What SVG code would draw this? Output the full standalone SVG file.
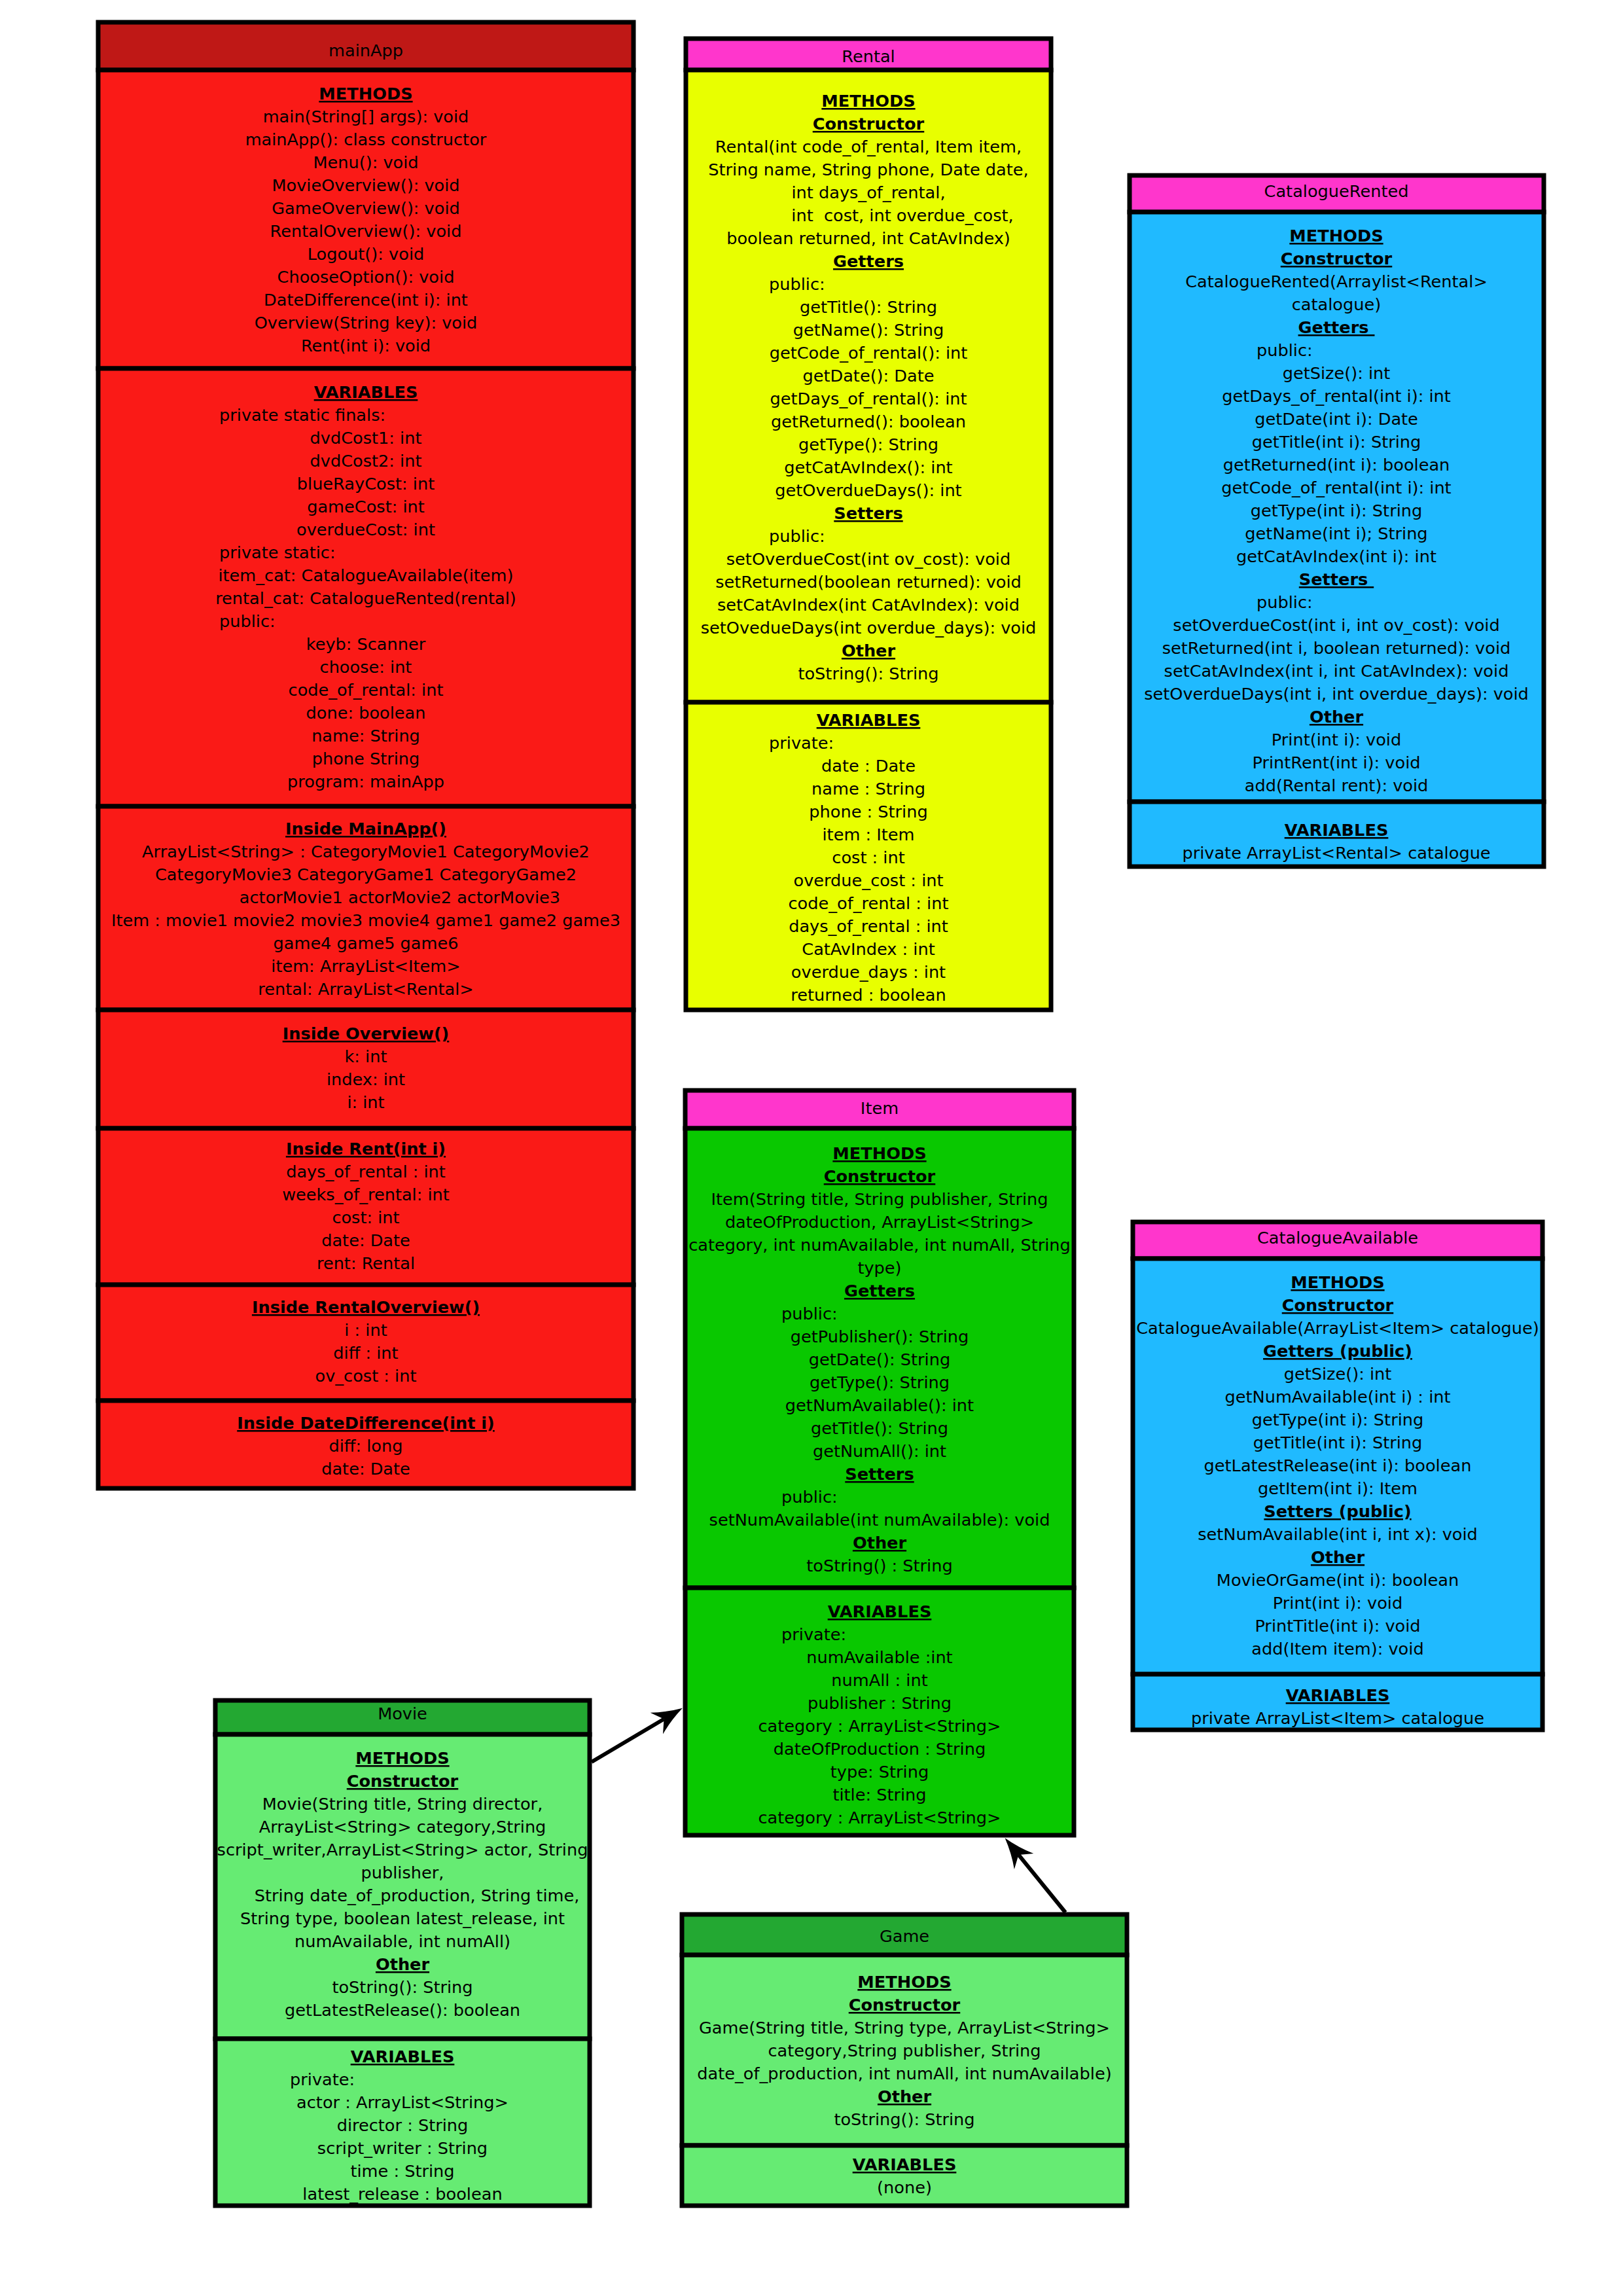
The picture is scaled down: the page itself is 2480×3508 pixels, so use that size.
<svg xmlns="http://www.w3.org/2000/svg" width="2480" height="3508" viewBox="0 0 2480 3508">
<style>
text{font-family:"DejaVu Sans",Verdana,sans-serif;font-size:25.6px;fill:#000;white-space:pre}
.m{text-anchor:middle}
.h{text-anchor:middle;font-weight:bold;text-decoration:underline}
.s{text-anchor:start}
.bd{stroke:#000;stroke-width:7}
.red{fill:#FA1A17}
.redh{fill:#BF1816}
.mag{fill:#FF36CC}
.yel{fill:#E8FF00}
.blu{fill:#20BAFF}
.grn{fill:#09C800}
.lg{fill:#66EB73}
.dg{fill:#23A832}
.conn{fill:none;stroke:#000;stroke-width:6}
</style>
<defs>
<marker id="arr" markerUnits="userSpaceOnUse" orient="auto" refX="0" refY="0" markerWidth="100" markerHeight="100" overflow="visible">
<path d="M-13,-19 Q8,-7 33,0 Q8,7 -13,19 L0,0 Z" fill="#000"/>
</marker>
</defs>
<rect width="2480" height="3508" fill="#fff"/>

<g id="mainApp">
<rect x="150" y="34" width="818" height="73" class="bd redh"/>
<rect x="150" y="107" width="818" height="456" class="bd red"/>
<rect x="150" y="563" width="818" height="669" class="bd red"/>
<rect x="150" y="1232" width="818" height="311" class="bd red"/>
<rect x="150" y="1543" width="818" height="181" class="bd red"/>
<rect x="150" y="1724" width="818" height="239" class="bd red"/>
<rect x="150" y="1963" width="818" height="177" class="bd red"/>
<rect x="150" y="2140" width="818" height="134" class="bd red"/>
<text class="m" x="559" y="86">mainApp</text>
<text class="h" x="559" y="152">METHODS</text>
<text class="m" x="559" y="187">main(String[] args): void</text>
<text class="m" x="559" y="222">mainApp(): class constructor</text>
<text class="m" x="559" y="257">Menu(): void</text>
<text class="m" x="559" y="292">MovieOverview(): void</text>
<text class="m" x="559" y="327">GameOverview(): void</text>
<text class="m" x="559" y="362">RentalOverview(): void</text>
<text class="m" x="559" y="397">Logout(): void</text>
<text class="m" x="559" y="432">ChooseOption(): void</text>
<text class="m" x="559" y="467">DateDifference(int i): int</text>
<text class="m" x="559" y="502">Overview(String key): void</text>
<text class="m" x="559" y="537">Rent(int i): void</text>
<text class="h" x="559" y="608">VARIABLES</text>
<text class="s" x="335" y="643">private static finals:</text>
<text class="m" x="559" y="678">dvdCost1: int</text>
<text class="m" x="559" y="713">dvdCost2: int</text>
<text class="m" x="559" y="748">blueRayCost: int</text>
<text class="m" x="559" y="783">gameCost: int</text>
<text class="m" x="559" y="818">overdueCost: int</text>
<text class="s" x="335" y="853">private static:</text>
<text class="m" x="559" y="888">item_cat: CatalogueAvailable(item)</text>
<text class="m" x="559" y="923">rental_cat: CatalogueRented(rental)</text>
<text class="s" x="335" y="958">public:</text>
<text class="m" x="559" y="993">keyb: Scanner</text>
<text class="m" x="559" y="1028">choose: int</text>
<text class="m" x="559" y="1063">code_of_rental: int</text>
<text class="m" x="559" y="1098">done: boolean</text>
<text class="m" x="559" y="1133">name: String</text>
<text class="m" x="559" y="1168">phone String</text>
<text class="m" x="559" y="1203">program: mainApp</text>
<text class="h" x="559" y="1275">Inside MainApp()</text>
<text class="m" x="559" y="1310">ArrayList&lt;String&gt; : CategoryMovie1 CategoryMovie2</text>
<text class="m" x="559" y="1345">CategoryMovie3 CategoryGame1 CategoryGame2</text>
<text class="m" x="611" y="1380">actorMovie1 actorMovie2 actorMovie3</text>
<text class="m" x="559" y="1415">Item : movie1 movie2 movie3 movie4 game1 game2 game3</text>
<text class="m" x="559" y="1450">game4 game5 game6</text>
<text class="m" x="559" y="1485">item: ArrayList&lt;Item&gt;</text>
<text class="m" x="559" y="1520">rental: ArrayList&lt;Rental&gt;</text>
<text class="h" x="559" y="1588">Inside Overview()</text>
<text class="m" x="559" y="1623">k: int</text>
<text class="m" x="559" y="1658">index: int</text>
<text class="m" x="559" y="1693">i: int</text>
<text class="h" x="559" y="1764">Inside Rent(int i)</text>
<text class="m" x="559" y="1799">days_of_rental : int</text>
<text class="m" x="559" y="1834">weeks_of_rental: int</text>
<text class="m" x="559" y="1869">cost: int</text>
<text class="m" x="559" y="1904">date: Date</text>
<text class="m" x="559" y="1939">rent: Rental</text>
<text class="h" x="559" y="2006">Inside RentalOverview()</text>
<text class="m" x="559" y="2041">i : int</text>
<text class="m" x="559" y="2076">diff : int</text>
<text class="m" x="559" y="2111">ov_cost : int</text>
<text class="h" x="559" y="2183">Inside DateDifference(int i)</text>
<text class="m" x="559" y="2218">diff: long</text>
<text class="m" x="559" y="2253">date: Date</text>
</g>

<g id="Rental">
<rect x="1048" y="59" width="558" height="48" class="bd mag"/>
<rect x="1048" y="107" width="558" height="966" class="bd yel"/>
<rect x="1048" y="1073" width="558" height="470" class="bd yel"/>
<text class="m" x="1327" y="95">Rental</text>
<text class="h" x="1327" y="163">METHODS</text>
<text class="h" x="1327" y="198">Constructor</text>
<text class="m" x="1327" y="233">Rental(int code_of_rental, Item item,</text>
<text class="m" x="1327" y="268">String name, String phone, Date date,</text>
<text class="m" x="1327" y="303">int days_of_rental,</text>
<text class="m" x="1379" y="338">int  cost, int overdue_cost,</text>
<text class="m" x="1327" y="373">boolean returned, int CatAvIndex)</text>
<text class="h" x="1327" y="408">Getters</text>
<text class="s" x="1175" y="443">public:</text>
<text class="m" x="1327" y="478">getTitle(): String</text>
<text class="m" x="1327" y="513">getName(): String</text>
<text class="m" x="1327" y="548">getCode_of_rental(): int</text>
<text class="m" x="1327" y="583">getDate(): Date</text>
<text class="m" x="1327" y="618">getDays_of_rental(): int</text>
<text class="m" x="1327" y="653">getReturned(): boolean</text>
<text class="m" x="1327" y="688">getType(): String</text>
<text class="m" x="1327" y="723">getCatAvIndex(): int</text>
<text class="m" x="1327" y="758">getOverdueDays(): int</text>
<text class="h" x="1327" y="793">Setters</text>
<text class="s" x="1175" y="828">public:</text>
<text class="m" x="1327" y="863">setOverdueCost(int ov_cost): void</text>
<text class="m" x="1327" y="898">setReturned(boolean returned): void</text>
<text class="m" x="1327" y="933">setCatAvIndex(int CatAvIndex): void</text>
<text class="m" x="1327" y="968">setOvedueDays(int overdue_days): void</text>
<text class="h" x="1327" y="1003">Other</text>
<text class="m" x="1327" y="1038">toString(): String</text>
<text class="h" x="1327" y="1109">VARIABLES</text>
<text class="s" x="1175" y="1144">private:</text>
<text class="m" x="1327" y="1179">date : Date</text>
<text class="m" x="1327" y="1214">name : String</text>
<text class="m" x="1327" y="1249">phone : String</text>
<text class="m" x="1327" y="1284">item : Item</text>
<text class="m" x="1327" y="1319">cost : int</text>
<text class="m" x="1327" y="1354">overdue_cost : int</text>
<text class="m" x="1327" y="1389">code_of_rental : int</text>
<text class="m" x="1327" y="1424">days_of_rental : int</text>
<text class="m" x="1327" y="1459">CatAvIndex : int</text>
<text class="m" x="1327" y="1494">overdue_days : int</text>
<text class="m" x="1327" y="1529">returned : boolean</text>
</g>

<g id="CatalogueRented">
<rect x="1726" y="268" width="633" height="56" class="bd mag"/>
<rect x="1726" y="324" width="633" height="901" class="bd blu"/>
<rect x="1726" y="1225" width="633" height="99" class="bd blu"/>
<text class="m" x="2042" y="301">CatalogueRented</text>
<text class="h" x="2042" y="369">METHODS</text>
<text class="h" x="2042" y="404">Constructor</text>
<text class="m" x="2042" y="439">CatalogueRented(Arraylist&lt;Rental&gt;</text>
<text class="m" x="2042" y="474">catalogue)</text>
<text class="h" x="2042" y="509">Getters </text>
<text class="s" x="1920" y="544">public:</text>
<text class="m" x="2042" y="579">getSize(): int</text>
<text class="m" x="2042" y="614">getDays_of_rental(int i): int</text>
<text class="m" x="2042" y="649">getDate(int i): Date</text>
<text class="m" x="2042" y="684">getTitle(int i): String</text>
<text class="m" x="2042" y="719">getReturned(int i): boolean</text>
<text class="m" x="2042" y="754">getCode_of_rental(int i): int</text>
<text class="m" x="2042" y="789">getType(int i): String</text>
<text class="m" x="2042" y="824">getName(int i); String</text>
<text class="m" x="2042" y="859">getCatAvIndex(int i): int</text>
<text class="h" x="2042" y="894">Setters </text>
<text class="s" x="1920" y="929">public:</text>
<text class="m" x="2042" y="964">setOverdueCost(int i, int ov_cost): void</text>
<text class="m" x="2042" y="999">setReturned(int i, boolean returned): void</text>
<text class="m" x="2042" y="1034">setCatAvIndex(int i, int CatAvIndex): void</text>
<text class="m" x="2042" y="1069">setOverdueDays(int i, int overdue_days): void</text>
<text class="h" x="2042" y="1104">Other</text>
<text class="m" x="2042" y="1139">Print(int i): void</text>
<text class="m" x="2042" y="1174">PrintRent(int i): void</text>
<text class="m" x="2042" y="1209">add(Rental rent): void</text>
<text class="h" x="2042" y="1277">VARIABLES</text>
<text class="m" x="2042" y="1312">private ArrayList&lt;Rental&gt; catalogue</text>
</g>

<g id="Item">
<rect x="1047" y="1666" width="594" height="58" class="bd mag"/>
<rect x="1047" y="1724" width="594" height="702" class="bd grn"/>
<rect x="1047" y="2426" width="594" height="378" class="bd grn"/>
<text class="m" x="1344" y="1702">Item</text>
<text class="h" x="1344" y="1771">METHODS</text>
<text class="h" x="1344" y="1806">Constructor</text>
<text class="m" x="1344" y="1841">Item(String title, String publisher, String</text>
<text class="m" x="1344" y="1876">dateOfProduction, ArrayList&lt;String&gt;</text>
<text class="m" x="1344" y="1911">category, int numAvailable, int numAll, String</text>
<text class="m" x="1344" y="1946">type)</text>
<text class="h" x="1344" y="1981">Getters</text>
<text class="s" x="1194" y="2016">public:</text>
<text class="m" x="1344" y="2051">getPublisher(): String</text>
<text class="m" x="1344" y="2086">getDate(): String</text>
<text class="m" x="1344" y="2121">getType(): String</text>
<text class="m" x="1344" y="2156">getNumAvailable(): int</text>
<text class="m" x="1344" y="2191">getTitle(): String</text>
<text class="m" x="1344" y="2226">getNumAll(): int</text>
<text class="h" x="1344" y="2261">Setters</text>
<text class="s" x="1194" y="2296">public:</text>
<text class="m" x="1344" y="2331">setNumAvailable(int numAvailable): void</text>
<text class="h" x="1344" y="2366">Other</text>
<text class="m" x="1344" y="2401">toString() : String</text>
<text class="h" x="1344" y="2471">VARIABLES</text>
<text class="s" x="1194" y="2506">private:</text>
<text class="m" x="1344" y="2541">numAvailable :int</text>
<text class="m" x="1344" y="2576">numAll : int</text>
<text class="m" x="1344" y="2611">publisher : String</text>
<text class="m" x="1344" y="2646">category : ArrayList&lt;String&gt;</text>
<text class="m" x="1344" y="2681">dateOfProduction : String</text>
<text class="m" x="1344" y="2716">type: String</text>
<text class="m" x="1344" y="2751">title: String</text>
<text class="m" x="1344" y="2786">category : ArrayList&lt;String&gt;</text>
</g>

<g id="CatalogueAvailable">
<rect x="1731" y="1867" width="626" height="56" class="bd mag"/>
<rect x="1731" y="1923" width="626" height="635" class="bd blu"/>
<rect x="1731" y="2558" width="626" height="85" class="bd blu"/>
<text class="m" x="2044" y="1900">CatalogueAvailable</text>
<text class="h" x="2044" y="1968">METHODS</text>
<text class="h" x="2044" y="2003">Constructor</text>
<text class="m" x="2044" y="2038">CatalogueAvailable(ArrayList&lt;Item&gt; catalogue)</text>
<text class="h" x="2044" y="2073">Getters (public)</text>
<text class="m" x="2044" y="2108">getSize(): int</text>
<text class="m" x="2044" y="2143">getNumAvailable(int i) : int</text>
<text class="m" x="2044" y="2178">getType(int i): String</text>
<text class="m" x="2044" y="2213">getTitle(int i): String</text>
<text class="m" x="2044" y="2248">getLatestRelease(int i): boolean</text>
<text class="m" x="2044" y="2283">getItem(int i): Item</text>
<text class="h" x="2044" y="2318">Setters (public)</text>
<text class="m" x="2044" y="2353">setNumAvailable(int i, int x): void</text>
<text class="h" x="2044" y="2388">Other</text>
<text class="m" x="2044" y="2423">MovieOrGame(int i): boolean</text>
<text class="m" x="2044" y="2458">Print(int i): void</text>
<text class="m" x="2044" y="2493">PrintTitle(int i): void</text>
<text class="m" x="2044" y="2528">add(Item item): void</text>
<text class="h" x="2044" y="2599">VARIABLES</text>
<text class="m" x="2044" y="2634">private ArrayList&lt;Item&gt; catalogue</text>
</g>

<g id="Movie">
<rect x="329" y="2598" width="572" height="52" class="bd dg"/>
<rect x="329" y="2650" width="572" height="465" class="bd lg"/>
<rect x="329" y="3115" width="572" height="255" class="bd lg"/>
<text class="m" x="615" y="2627">Movie</text>
<text class="h" x="615" y="2695">METHODS</text>
<text class="h" x="615" y="2730">Constructor</text>
<text class="m" x="615" y="2765">Movie(String title, String director,</text>
<text class="m" x="615" y="2800">ArrayList&lt;String&gt; category,String</text>
<text class="m" x="615" y="2835">script_writer,ArrayList&lt;String&gt; actor, String</text>
<text class="m" x="615" y="2870">publisher,</text>
<text class="m" x="637" y="2905">String date_of_production, String time,</text>
<text class="m" x="615" y="2940">String type, boolean latest_release, int</text>
<text class="m" x="615" y="2975">numAvailable, int numAll)</text>
<text class="h" x="615" y="3010">Other</text>
<text class="m" x="615" y="3045">toString(): String</text>
<text class="m" x="615" y="3080">getLatestRelease(): boolean</text>
<text class="h" x="615" y="3151">VARIABLES</text>
<text class="s" x="443" y="3186">private:</text>
<text class="m" x="615" y="3221">actor : ArrayList&lt;String&gt;</text>
<text class="m" x="615" y="3256">director : String</text>
<text class="m" x="615" y="3291">script_writer : String</text>
<text class="m" x="615" y="3326">time : String</text>
<text class="m" x="615" y="3361">latest_release : boolean</text>
</g>

<g id="Game">
<rect x="1042" y="2925" width="680" height="62" class="bd dg"/>
<rect x="1042" y="2987" width="680" height="291" class="bd lg"/>
<rect x="1042" y="3278" width="680" height="92" class="bd lg"/>
<text class="m" x="1382" y="2967">Game</text>
<text class="h" x="1382" y="3037">METHODS</text>
<text class="h" x="1382" y="3072">Constructor</text>
<text class="m" x="1382" y="3107">Game(String title, String type, ArrayList&lt;String&gt;</text>
<text class="m" x="1382" y="3142">category,String publisher, String</text>
<text class="m" x="1382" y="3177">date_of_production, int numAll, int numAvailable)</text>
<text class="h" x="1382" y="3212">Other</text>
<text class="m" x="1382" y="3247">toString(): String</text>
<text class="h" x="1382" y="3316">VARIABLES</text>
<text class="m" x="1382" y="3351">(none)</text>
</g>

<g id="connectors">
<path class="conn" d="M904,2692 L1014.5,2626.5" marker-end="url(#arr)"/>
<path class="conn" d="M1628,2922 L1556.4,2833.9" marker-end="url(#arr)"/>
</g>
</svg>
